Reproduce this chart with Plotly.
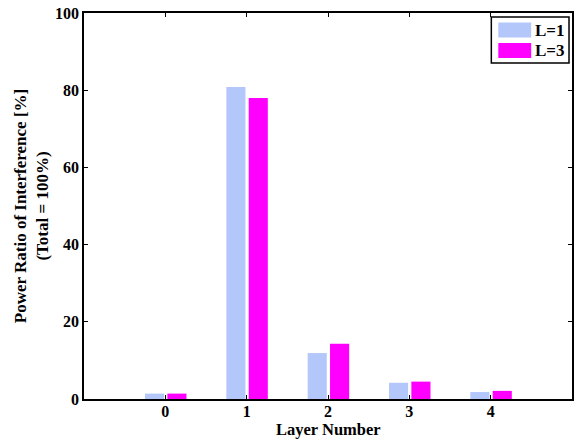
import plotly.graph_objects as go

# Interference power share per layer, for two values of L
layers = [0, 1, 2, 3, 4]
tick_labels = ["0", "1", "2", "3", "4"]
ratio_L1 = [1.4, 80.8, 11.9, 4.2, 1.8]
ratio_L3 = [1.4, 78.0, 14.3, 4.5, 2.1]
series_names = ["L=1", "L=3"]
series_colors = ["#b3c7fb", "#ff00ff"]

W, H = 574, 440
ML, MR, MT, MB = 84, 0, 13, 41
PW, PH = W - ML - MR, H - MT - MB

FONT = dict(family="Liberation Serif, Times New Roman, serif", size=17,
            color="black", weight="bold")
TICK_FONT = dict(FONT, size=16)

fig = go.Figure()
for name, vals, color, off in zip(series_names, [ratio_L1, ratio_L3],
                                  series_colors, [-0.25, 0.025]):
    fig.add_trace(go.Bar(x=layers, y=vals, name=name, width=0.235, offset=off,
                         marker=dict(color=color, line=dict(width=0)),
                         showlegend=False))


def px_x(px):
    return (px - ML) / PW


def px_y(py):
    return (H - MB - py) / PH


# Legend box drawn in paper coordinates
shapes = [dict(type="rect", xref="paper", yref="paper",
               x0=px_x(493), x1=px_x(571), y0=px_y(63), y1=px_y(17),
               line=dict(color="black", width=1.5), fillcolor="white")]
annotations = []
for i, (name, color) in enumerate(zip(series_names, series_colors)):
    top = 22.5 + i * 20.5
    shapes.append(dict(type="rect", xref="paper", yref="paper",
                       x0=px_x(500), x1=px_x(533), y0=px_y(top + 15), y1=px_y(top),
                       line=dict(width=0), fillcolor=color))
    annotations.append(dict(xref="paper", yref="paper", x=px_x(535),
                            y=px_y(top + 7.5), text=name, showarrow=False,
                            xanchor="left", yanchor="middle", font=FONT))

# x-axis title placed just under the tick labels
annotations.append(dict(xref="paper", yref="paper", x=px_x(329.5), y=px_y(439.5),
                        text="Layer Number", showarrow=False, xanchor="center",
                        yanchor="bottom", borderpad=0, font=dict(FONT, size=16.5)))

axis_common = dict(showline=True, linecolor="black", linewidth=1.5,
                   mirror="ticks", ticks="inside", ticklen=4,
                   tickcolor="black", tickwidth=1, showgrid=False,
                   zeroline=False, tickfont=TICK_FONT)

fig.update_layout(
    width=W, height=H,
    margin=dict(l=ML, r=MR, t=MT, b=MB, pad=0),
    paper_bgcolor="white", plot_bgcolor="white",
    barmode="overlay",
    shapes=shapes, annotations=annotations,
    xaxis=dict(range=[-1, 5], tickvals=layers, ticktext=tick_labels,
               ticklabelstandoff=-3, **axis_common),
    yaxis=dict(range=[0, 100], tickvals=[0, 20, 40, 60, 80, 100],
               title=dict(text="Power Ratio of Interference [%]<br>(Total = 100%)",
                          font=FONT, standoff=2),
               **axis_common),
)

fig.write_html("out.html")
